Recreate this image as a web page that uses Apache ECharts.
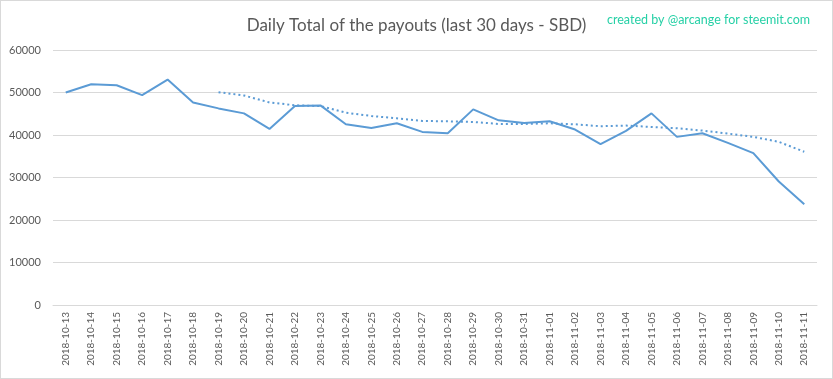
<!DOCTYPE html>
<html><head><meta charset="utf-8">
<script src="https://cdn.jsdelivr.net/npm/echarts@6/dist/echarts.min.js"></script>
<style>html,body{margin:0;padding:0;background:#fff}#c{width:833px;height:379px;box-sizing:border-box;border:1px solid #d9d9d9}</style>
</head><body><div id="c"></div>
<script>
const categories = ['2018-10-13','2018-10-14','2018-10-15','2018-10-16','2018-10-17','2018-10-18','2018-10-19','2018-10-20','2018-10-21','2018-10-22','2018-10-23','2018-10-24','2018-10-25','2018-10-26','2018-10-27','2018-10-28','2018-10-29','2018-10-30','2018-10-31','2018-11-01','2018-11-02','2018-11-03','2018-11-04','2018-11-05','2018-11-06','2018-11-07','2018-11-08','2018-11-09','2018-11-10','2018-11-11'];
const payouts = [50000,51940,51700,49370,53040,47660,46260,45090,41430,46800,46960,42520,41660,42760,40730,40420,46030,43460,42830,43220,41280,37850,40970,45090,39560,40420,38160,35750,29050,23680];
const movingAvg = [null,null,null,null,null,null,50070,49300,47660,47000,46800,45250,44470,43930,43300,43220,43060,42600,42600,42750,42520,42060,42210,41900,41590,41040,40340,39560,38390,36050];
const yTicks = {min:0,max:60000,interval:10000};
const FONT = 'Lato, "Liberation Sans", sans-serif';
const chart = echarts.init(document.getElementById('c'));
chart.setOption({
  animation:false,
  title:[{text:'Daily Total of the payouts (last 30 days - SBD)',left:'center',top:11,textStyle:{fontFamily:FONT,fontSize:17,fontWeight:'normal',color:'#595959'}},
         {text:'created by @arcange for steemit.com',right:17,top:7,textStyle:{fontFamily:FONT,fontSize:12.5,fontWeight:'normal',color:'#26d0a6'}}],
  grid:{left:52,right:15,top:49,bottom:73},
  xAxis:{type:'category',data:categories,boundaryGap:true,
    axisLine:{lineStyle:{color:'#d9d9d9'}},axisTick:{show:false},
    axisLabel:{rotate:90,interval:0,fontFamily:FONT,fontSize:10,color:'#595959',margin:7}},
  yAxis:{type:'value',min:yTicks.min,max:yTicks.max,interval:yTicks.interval,
    axisLine:{show:false},axisTick:{show:false},
    axisLabel:{fontFamily:FONT,fontSize:11,color:'#595959',margin:12,formatter:v=>String(v)},
    splitLine:{lineStyle:{color:'#d9d9d9'}}},
  series:[
    {type:'line',data:payouts,symbol:'none',lineStyle:{color:'#5b9bd5',width:2},itemStyle:{color:'#5b9bd5'}},
    {type:'line',data:movingAvg,symbol:'none',lineStyle:{color:'#5b9bd5',width:2,type:[2,3]},itemStyle:{color:'#5b9bd5'}}
  ]
});
</script></body></html>
